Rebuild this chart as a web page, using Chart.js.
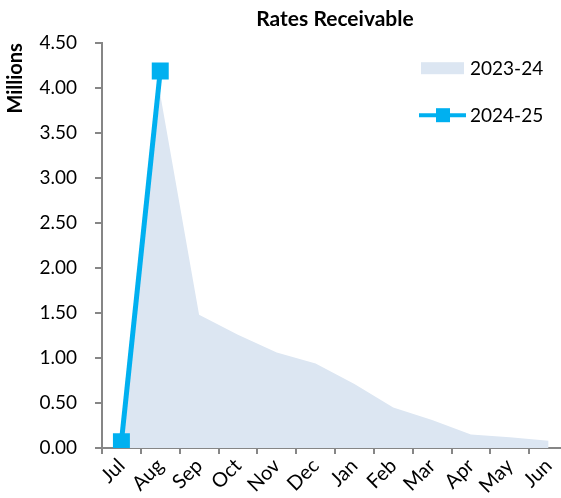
<!DOCTYPE html>
<html>
<head>
<meta charset="utf-8">
<script src="https://cdn.jsdelivr.net/npm/chart.js@4/dist/chart.umd.min.js"></script>
<style>
  html, body { margin: 0; padding: 0; background: #fff; overflow: hidden; }
  #wrap { width: 580px; height: 498px; }
</style>
</head>
<body>
<div id="wrap"><canvas id="chart" width="580" height="498"></canvas></div>
<script>
// values in millions
var months = ['Jul', 'Aug', 'Sep', 'Oct', 'Nov', 'Dec', 'Jan', 'Feb', 'Mar', 'Apr', 'May', 'Jun'];
var prevYear = [0.10, 3.93, 1.48, 1.26, 1.06, 0.94, 0.71, 0.45, 0.31, 0.15, 0.12, 0.08];
var thisYear = [0.07, 4.19, null, null, null, null, null, null, null, null, null, null];
var seriesNames = ['2023-24', '2024-25'];

var FONT = 'Lato, "Open Sans", sans-serif';
var areaColor = '#DCE6F2';
var lineColor = '#00B0F0';
var axisColor = '#868686';

// legend drawn inside the plot, stacked like the spreadsheet one
var insideLegend = {
    id: 'insideLegend',
    afterDraw: function(chart) {
        var ctx = chart.ctx, area = chart.chartArea;
        var x0 = area.right - 147, y1 = area.top + 25, y2 = area.top + 72;
        ctx.save();
        ctx.fillStyle = areaColor;
        ctx.fillRect(x0, y1 - 6, 43, 12);

        ctx.strokeStyle = lineColor;
        ctx.lineWidth = 4;
        ctx.beginPath();
        ctx.moveTo(x0 - 2, y2);
        ctx.lineTo(x0 + 45, y2);
        ctx.stroke();
        ctx.fillStyle = lineColor;
        ctx.fillRect(x0 + 15, y2 - 7, 14, 14);

        ctx.fillStyle = '#000';
        ctx.font = '19px ' + FONT;
        ctx.textAlign = 'left';
        ctx.textBaseline = 'middle';
        ctx.fillText(seriesNames[0], x0 + 49, y1 + 1);
        ctx.fillText(seriesNames[1], x0 + 49, y2 + 1);
        ctx.restore();
    }
};

new Chart(document.getElementById('chart'), {
    type: 'line',
    data: {
        labels: months,
        datasets: [{
            label: seriesNames[1],
            data: thisYear,
            order: 0,
            borderColor: lineColor,
            backgroundColor: lineColor,
            borderWidth: 5,
            pointStyle: 'rect',
            pointRadius: 12,
            pointBorderWidth: 0,
            pointBackgroundColor: lineColor,
            tension: 0,
            fill: false
        }, {
            label: seriesNames[0],
            data: prevYear,
            order: 1,
            borderWidth: 0,
            borderColor: areaColor,
            backgroundColor: areaColor,
            pointRadius: 0,
            tension: 0,
            fill: 'origin'
        }]
    },
    options: {
        responsive: false,
        animation: false,
        layout: { padding: { left: 0, right: 11, top: 0, bottom: 0 } },
        plugins: {
            legend: { display: false },
            tooltip: { enabled: false },
            title: {
                display: true,
                text: 'Rates Receivable',
                fullSize: false,
                color: '#000',
                font: { family: FONT, size: 21, weight: 'bold' },
                padding: { top: 7, bottom: 11 }
            }
        },
        scales: {
            x: {
                offset: true,
                grid: {
                    offset: true,
                    drawOnChartArea: false,
                    tickLength: 6,
                    color: axisColor,
                    lineWidth: 2
                },
                border: { color: axisColor, width: 2 },
                ticks: {
                    color: '#000',
                    font: { family: FONT, size: 20 },
                    minRotation: 45,
                    maxRotation: 45,
                    padding: 0
                }
            },
            y: {
                min: 0,
                max: 4.5,
                afterFit: function(scale) { scale.width = 102; },
                grid: {
                    drawOnChartArea: false,
                    tickLength: 7,
                    color: axisColor,
                    lineWidth: 2
                },
                border: { color: axisColor, width: 2 },
                ticks: {
                    stepSize: 0.5,
                    color: '#000',
                    padding: 18,
                    font: { family: FONT, size: 19 },
                    callback: function(v) { return v.toFixed(2); }
                },
                title: {
                    display: true,
                    text: 'Millions',
                    align: 'end',
                    color: '#000',
                    font: { family: FONT, size: 20, weight: 'bold' },
                    padding: { top: 4, bottom: 0 }
                }
            }
        }
    },
    plugins: [insideLegend]
});
</script>
</body>
</html>
